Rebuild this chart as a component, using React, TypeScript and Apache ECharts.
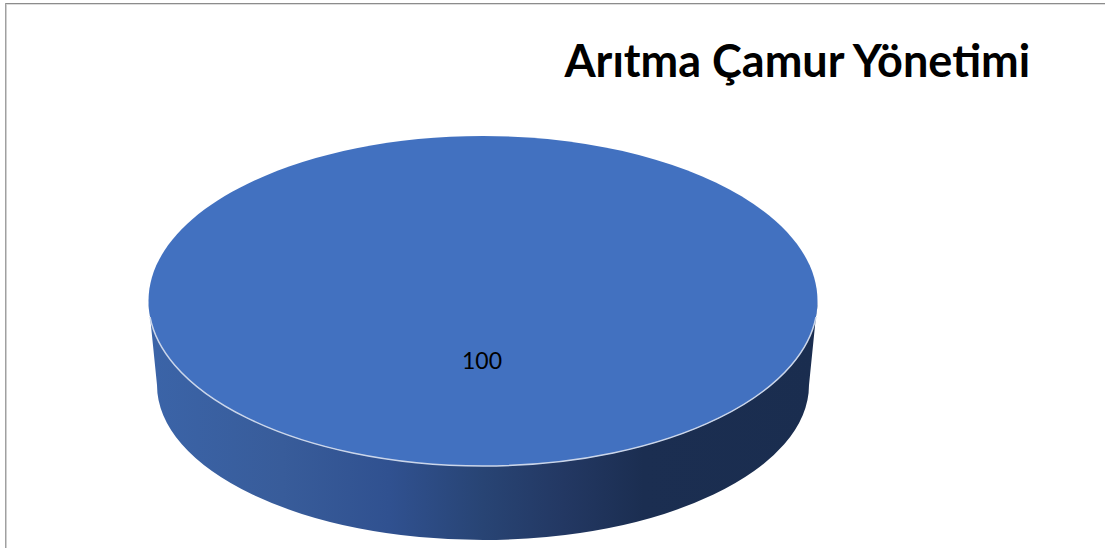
import React, { useEffect, useRef } from "react";
import * as echarts from "echarts";

const chartTitle = "Arıtma Çamur Yönetimi";
const categories = ["Arıtma Çamur"];
const seriesValues = [100];

const TOP = { cx: 483, cy: 301, rx: 334.5, ry: 165 };
const BOTTOM = { cx: 483, cy: 385, rx: 326, ry: 155 };
const TOP_COLOR = "#4271C0";

const total = seriesValues.reduce((a, b) => a + b, 0);

function renderSlice(_params: any, api: any) {
  const value = api.value(1) as number;
  const full = value / total >= 1;
  const tl = TOP.cx - TOP.rx;
  const tr = TOP.cx + TOP.rx;
  const bl = BOTTOM.cx - BOTTOM.rx;
  const br = BOTTOM.cx + BOTTOM.rx;
  const sweep = (value / total) * Math.PI * 2;
  const sideD =
    `M${tl} ${TOP.cy}A${TOP.rx} ${TOP.ry} 0 0 0 ${tr} ${TOP.cy}` +
    `L${br} ${BOTTOM.cy}A${BOTTOM.rx} ${BOTTOM.ry} 0 0 1 ${bl} ${BOTTOM.cy}Z`;
  const children: any[] = [
    {
      type: "path",
      shape: { pathData: sideD },
      style: {
        fill: new echarts.graphic.LinearGradient(0, 0, 1, 0, [
          { offset: 0, color: "#3B64A8" },
          { offset: 0.2, color: "#385C9A" },
          { offset: 0.36, color: "#305190" },
          { offset: 0.5, color: "#284474" },
          { offset: 0.62, color: "#233863" },
          { offset: 0.74, color: "#1B2E51" },
          { offset: 1, color: "#1A2D4F" },
        ]),
      },
    },
  ];
  children.push(
    full
      ? {
          type: "ellipse",
          shape: { cx: TOP.cx, cy: TOP.cy, rx: TOP.rx, ry: TOP.ry },
          style: { fill: TOP_COLOR },
        }
      : {
          type: "path",
          shape: {
            pathData:
              `M${TOP.cx} ${TOP.cy}L${TOP.cx} ${TOP.cy - TOP.ry}` +
              `A${TOP.rx} ${TOP.ry} 0 ${sweep > Math.PI ? 1 : 0} 1 ` +
              `${TOP.cx + TOP.rx * Math.sin(sweep)} ${TOP.cy - TOP.ry * Math.cos(sweep)}Z`,
          },
          style: { fill: TOP_COLOR },
        }
  );
  children.push({
    type: "ellipse",
    shape: { cx: TOP.cx, cy: TOP.cy, rx: TOP.rx, ry: TOP.ry },
    style: { fill: "none", stroke: "#CBD6EA", lineWidth: 1.5 },
    clipPath: { type: "rect", shape: { x: 100, y: TOP.cy + 16, width: 800, height: 300 } },
  });
  children.push({
    type: "text",
    x: TOP.cx - 1,
    y: 360,
    style: {
      text: String(value),
      fill: "#000000",
      font: '23px Lato, "Open Sans", sans-serif',
      align: "center",
      verticalAlign: "middle",
    },
  });
  return { type: "group", children };
}

export default function App() {
  const ref = useRef<HTMLDivElement>(null);
  useEffect(() => {
    const chart = echarts.init(ref.current!, null, { renderer: "svg" });
    chart.setOption({
      animation: false,
      backgroundColor: "#ffffff",
      title: {
        text: chartTitle,
        right: 67,
        top: 32,
        textStyle: {
          fontFamily: 'Lato, "Open Sans", sans-serif',
          fontWeight: "bold",
          fontSize: 45,
          color: "#000000",
        },
      },
      graphic: [
        { type: "rect", shape: { x: 5, y: 3, width: 1100, height: 1 }, style: { fill: "#8C8C8C" } },
        { type: "rect", shape: { x: 6, y: 4, width: 1099, height: 1 }, style: { fill: "#DDDDDD" } },
        { type: "rect", shape: { x: 5, y: 3, width: 1, height: 545 }, style: { fill: "#A0A0A0" } },
        { type: "rect", shape: { x: 6, y: 4, width: 1, height: 544 }, style: { fill: "#D0D0D0" } },
      ],
      series: [
        {
          type: "custom",
          coordinateSystem: "none",
          data: categories.map((c, i) => [c, seriesValues[i]]),
          renderItem: renderSlice,
        },
      ],
    });
    return () => chart.dispose();
  }, []);
  return <div ref={ref} style={{ position: "fixed", left: 0, top: 0, width: 1105, height: 548 }} />;
}
